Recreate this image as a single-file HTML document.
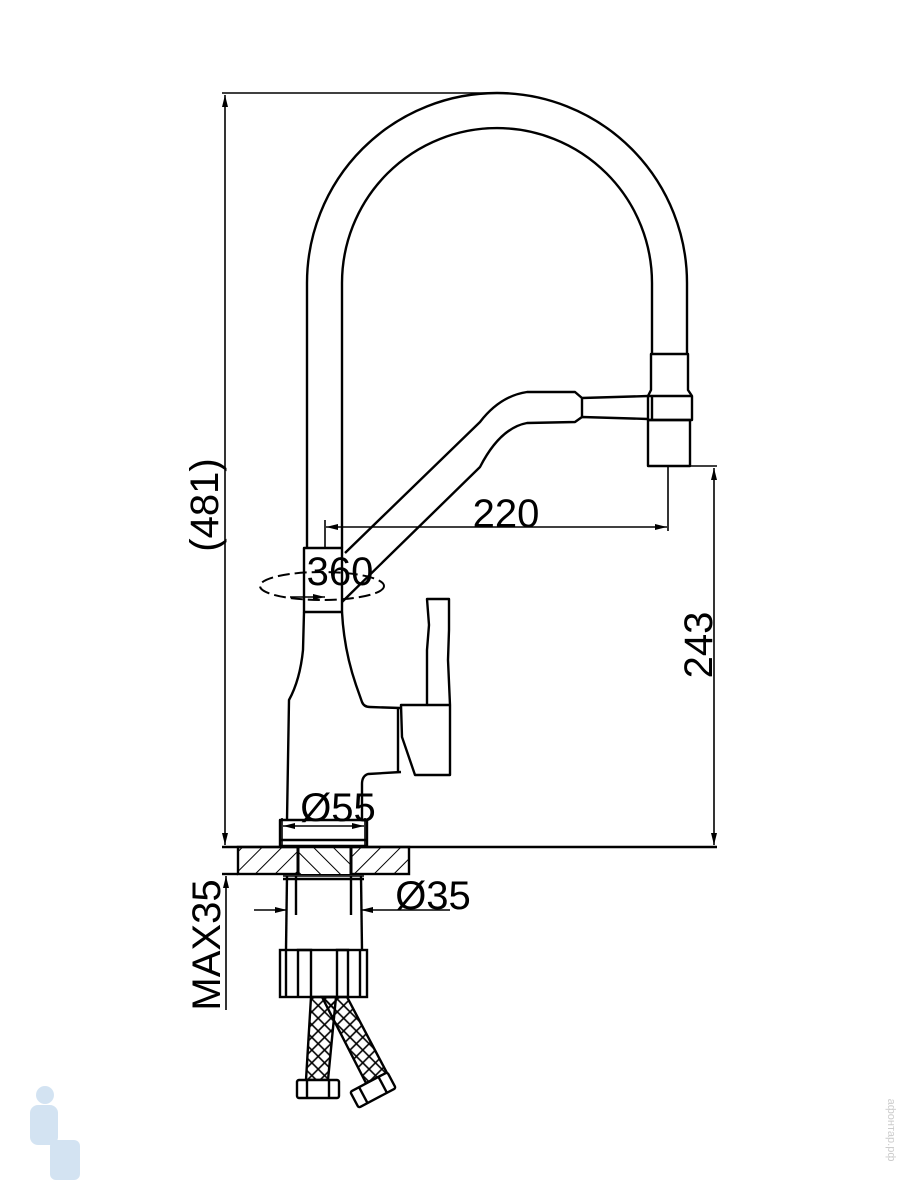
<!DOCTYPE html>
<html><head><meta charset="utf-8"><style>
html,body{margin:0;padding:0;background:#fff}
svg{display:block}
text{font-family:"Liberation Sans",sans-serif;fill:#000}
</style></head><body>
<svg width="900" height="1200" viewBox="0 0 900 1200" xmlns="http://www.w3.org/2000/svg">
<defs>
<marker id="a" markerWidth="12" markerHeight="8" refX="12" refY="4" orient="auto" markerUnits="userSpaceOnUse"><path d="M0,1 L12,4 L0,7z" fill="#000"/></marker>
<marker id="b" markerWidth="12" markerHeight="8" refX="0" refY="4" orient="auto" markerUnits="userSpaceOnUse"><path d="M12,1 L0,4 L12,7z" fill="#000"/></marker>
<pattern id="h" width="14" height="14" patternUnits="userSpaceOnUse" patternTransform="rotate(45)"><line x1="0" y1="0" x2="0" y2="14" stroke="#000" stroke-width="2"/></pattern>
<pattern id="h2" width="14" height="14" patternUnits="userSpaceOnUse" patternTransform="rotate(-45)"><line x1="0" y1="0" x2="0" y2="14" stroke="#000" stroke-width="2"/></pattern>
<pattern id="x" width="9" height="9" patternUnits="userSpaceOnUse" patternTransform="rotate(45)"><rect width="9" height="9" fill="none" stroke="#000" stroke-width="1.6"/></pattern>
</defs>
<g fill="none" stroke="#000" stroke-width="2.4" stroke-linejoin="round">
<path d="M307,548 L307,283 A190,190 0 0 1 687,283 L687,355"/>
<path d="M342,548 L342,283 A155,155 0 0 1 652,283 L652,355"/>
<path d="M651,354 L688,354 L688,390 L692,396 L692,420 L648,420 L648,396 L651,390 Z"/>
<line x1="648" y1="396" x2="692" y2="396"/>
<line x1="652" y1="396" x2="652" y2="420"/>
<rect x="648" y="420" width="42" height="46"/>
<path d="M345,553 L480,422 Q500,396 527,392 L575,392 L582,398 L648,396"/>
<path d="M342,602 L480,467 Q500,428 527,423 L575,422 L582,417 L648,419"/>
<line x1="582" y1="398" x2="582" y2="417"/>
<rect x="304" y="548" width="38" height="64"/>
<path d="M304,612 L303,650 Q300,680 289,700 L287,820"/>
<path d="M342,612 Q344,650 356,685 L362,702 Q364,707 370,707 L400,708"/>
<path d="M401,772 L368,774 Q362,776 362,784 L362,820"/>
<path d="M401,705 L427,705 L427,650 L429,625 L427,599 L449,599 L449,630 L448,660 L450,705 L450,775 L415,775 L402,737 Z"/>
<line x1="427" y1="705" x2="450" y2="705"/>
<line x1="398" y1="708" x2="398" y2="771"/>
<rect x="280" y="820" width="87" height="26"/>
<line x1="280" y1="840" x2="367" y2="840"/>
</g>
<rect x="238" y="847" width="171" height="27" fill="url(#h)" stroke="#000" stroke-width="2.4"/>
<rect x="298" y="847" width="53" height="27" fill="#fff" stroke="none"/>
<rect x="298" y="847" width="53" height="27" fill="url(#h2)" stroke="none"/>
<g fill="none" stroke="#000" stroke-width="2.4">
<line x1="298" y1="847" x2="298" y2="874" stroke-width="3"/>
<line x1="351" y1="847" x2="351" y2="874" stroke-width="3"/>
<line x1="222" y1="847" x2="717" y2="847"/>
<line x1="222" y1="874" x2="238" y2="874"/>
<line x1="283" y1="879" x2="364" y2="879"/>
<line x1="283" y1="876" x2="364" y2="876" stroke-width="1.5"/>
<line x1="287" y1="876" x2="286" y2="950"/>
<line x1="361" y1="876" x2="362" y2="950"/>
<line x1="296" y1="876" x2="296" y2="915"/>
<line x1="351" y1="876" x2="351" y2="915"/>
<rect x="280" y="950" width="87" height="47"/>
<path d="M286,997 L286,950 M360,997 L360,950"/>
<path d="M298,997 L298,950 L311,950 L311,997 M337,997 L337,950 L348,950 L348,997"/>
</g>
<path d="M311,997 L336,997 L328,1080 L306,1080 Z" fill="url(#x)" stroke="#000" stroke-width="2.4"/>
<path d="M322,997 L347,997 L387,1073 L366,1083 Z" fill="url(#x)" stroke="#000" stroke-width="2.4"/>
<g fill="#fff" stroke="#000" stroke-width="2.4">
<rect x="297" y="1080" width="42" height="18" rx="2"/>
<line x1="307" y1="1080" x2="307" y2="1098"/><line x1="329" y1="1080" x2="329" y2="1098"/>
<g transform="rotate(-28 373 1090)"><rect x="352" y="1081" width="42" height="18" rx="2"/><line x1="362" y1="1081" x2="362" y2="1099"/><line x1="384" y1="1081" x2="384" y2="1099"/></g>
</g>
<g stroke="#000" stroke-width="1.6" fill="none">
<line x1="222" y1="93" x2="495" y2="93"/>
<line x1="225" y1="95" x2="225" y2="845" marker-start="url(#b)" marker-end="url(#a)"/>
<line x1="668" y1="466" x2="717" y2="466"/>
<line x1="714" y1="468" x2="714" y2="845" marker-start="url(#b)" marker-end="url(#a)"/>
<line x1="668" y1="466" x2="668" y2="531"/>
<line x1="325" y1="520" x2="325" y2="548"/>
<line x1="326" y1="527" x2="667" y2="527" marker-start="url(#b)" marker-end="url(#a)"/>
<line x1="282" y1="818" x2="282" y2="846"/>
<line x1="365" y1="818" x2="365" y2="846"/>
<line x1="283" y1="826" x2="364" y2="826" marker-start="url(#b)" marker-end="url(#a)"/>
<line x1="226" y1="876" x2="226" y2="1010" marker-start="url(#b)"/>
<line x1="254" y1="910" x2="287" y2="910" marker-end="url(#a)"/>
<line x1="361" y1="910" x2="450" y2="910" marker-start="url(#b)"/>
<ellipse cx="322" cy="586" rx="62" ry="14" stroke-dasharray="12,5" stroke-width="2"/>
<line x1="290" y1="597" x2="325" y2="597" marker-end="url(#a)"/>
</g>
<text x="340" y="585" font-size="40" text-anchor="middle">360</text>
<text x="506" y="527" font-size="40" text-anchor="middle">220</text>
<text x="338" y="821" font-size="40" text-anchor="middle">Ø55</text>
<text x="433" y="909" font-size="40" text-anchor="middle">Ø35</text>
<text transform="translate(218,505) rotate(-90)" font-size="40" text-anchor="middle">(481)</text>
<text transform="translate(712,645) rotate(-90)" font-size="40" text-anchor="middle">243</text>
<text transform="translate(220,945) rotate(-90)" font-size="40" text-anchor="middle">MAX35</text>
<g fill="#c9ddf0" opacity="0.8">
<circle cx="45" cy="1095" r="9"/>
<rect x="30" y="1105" width="28" height="40" rx="8"/>
<rect x="50" y="1140" width="30" height="40" rx="6"/>
</g>
<text transform="translate(888,1130) rotate(90)" font-size="11" text-anchor="middle" style="fill:#ccc">афонтар.рф</text>
</svg>
</body></html>
